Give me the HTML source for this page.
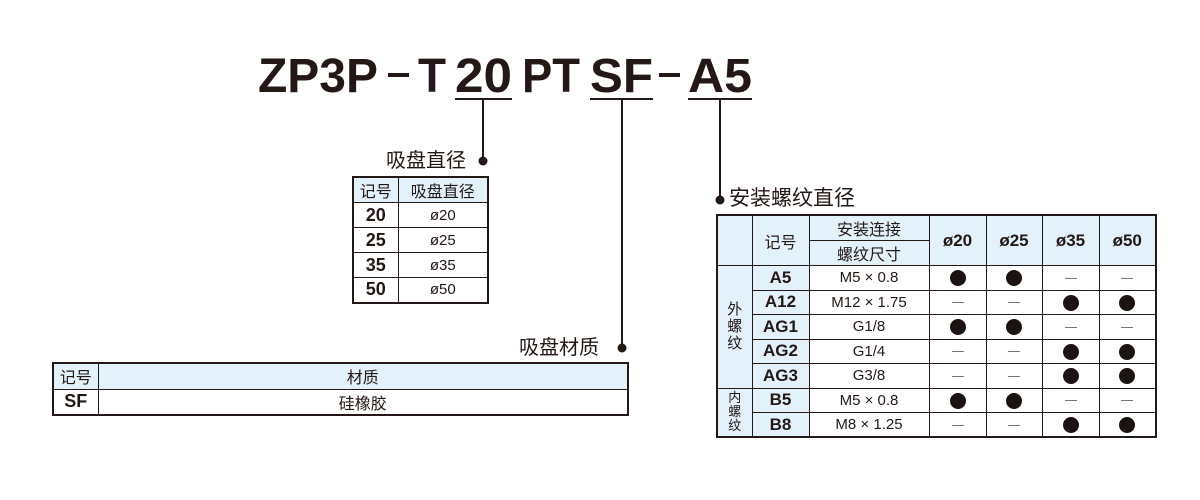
<!DOCTYPE html>
<html><head><meta charset="utf-8"><style>
body{margin:0;width:1200px;height:500px;background:#fff;position:relative;overflow:hidden;font-family:"Liberation Sans","Noto Sans CJK SC",sans-serif;color:#231815}
table{position:absolute;border-collapse:collapse;border:2px solid #231815;table-layout:fixed}
td{border:1px solid #231815;padding:0;text-align:center;vertical-align:middle;white-space:nowrap;overflow:hidden}
.h{background:#e3f1fb}
.b{font-weight:bold}
.lbl{position:absolute;font-size:20px;line-height:22px;white-space:nowrap}
.dot{display:inline-block;width:16px;height:16px;border-radius:50%;background:#1a1311;vertical-align:middle}
.dash{display:inline-block;width:12px;height:1px;background:#777;vertical-align:middle}
</style></head><body>
<svg width="1200" height="500" style="position:absolute;left:0;top:0">
<g font-family="Liberation Sans" font-weight="bold" font-size="48" fill="#231815">
<text x="258" y="92" textLength="120" lengthAdjust="spacingAndGlyphs">ZP3P</text>
<text x="418" y="92" textLength="28" lengthAdjust="spacingAndGlyphs">T</text>
<text x="455" y="92" textLength="57" lengthAdjust="spacingAndGlyphs">20</text>
<text x="522" y="92" textLength="58" lengthAdjust="spacingAndGlyphs">PT</text>
<text x="590" y="92" textLength="63" lengthAdjust="spacingAndGlyphs">SF</text>
<text x="688" y="92" textLength="64" lengthAdjust="spacingAndGlyphs">A5</text>
</g>
<rect x="388" y="73" width="21" height="4" fill="#231815"/>
<rect x="659" y="73" width="21" height="4" fill="#231815"/>
<g stroke="#231815" stroke-width="2">
<line x1="455" y1="99" x2="512" y2="99"/>
<line x1="590" y1="99" x2="653" y2="99"/>
<line x1="688" y1="99" x2="752" y2="99"/>
<line x1="483" y1="99" x2="483" y2="160"/>
<line x1="622" y1="99" x2="622" y2="347"/>
<line x1="720" y1="99" x2="720" y2="200"/>
</g>
<g fill="#231815"><circle cx="483" cy="161" r="4.5"/><circle cx="622" cy="348" r="4.5"/><circle cx="720" cy="200" r="4.5"/></g>
</svg>
<div class="lbl" style="left:386px;top:150px">吸盘直径</div>
<div class="lbl" style="left:729px;top:188px;font-size:21px">安装螺纹直径</div>
<div class="lbl" style="left:519px;top:337px">吸盘材质</div>

<table style="left:352px;top:176px;width:137px">
<col style="width:45px"><col>
<tr style="height:25px"><td class="h" style="font-size:16px">记号</td><td class="h" style="font-size:16px">吸盘直径</td></tr>
<tr style="height:25px"><td class="b" style="font-size:18px">20</td><td style="font-size:15px">ø20</td></tr>
<tr style="height:25px"><td class="b" style="font-size:18px">25</td><td style="font-size:15px">ø25</td></tr>
<tr style="height:25px"><td class="b" style="font-size:18px">35</td><td style="font-size:15px">ø35</td></tr>
<tr style="height:25px"><td class="b" style="font-size:18px">50</td><td style="font-size:15px">ø50</td></tr>
</table>

<table style="left:52px;top:362px;width:577px">
<col style="width:45px"><col>
<tr style="height:26px"><td class="h" style="font-size:16px">记号</td><td class="h" style="font-size:16px">材质</td></tr>
<tr style="height:26px"><td class="b" style="font-size:18px">SF</td><td style="font-size:16px">硅橡胶</td></tr>
</table>

<table style="left:716px;top:214px;width:441px;font-size:15px">
<col style="width:35px"><col style="width:57px"><col style="width:120px"><col style="width:57px"><col style="width:56px"><col style="width:57px"><col>
<tr style="height:24px"><td class="h" rowspan="2"></td><td class="h" rowspan="2" style="font-size:16px">记号</td><td class="h" style="font-size:16px">安装连接</td><td class="h b" rowspan="2" style="font-size:17px">ø20</td><td class="h b" rowspan="2" style="font-size:17px">ø25</td><td class="h b" rowspan="2" style="font-size:17px">ø35</td><td class="h b" rowspan="2" style="font-size:17px">ø50</td></tr>
<tr style="height:24px"><td class="h" style="font-size:16px">螺纹尺寸</td></tr>
<tr style="height:24.5px"><td class="h" rowspan="5" style="font-size:15px;line-height:17px">外<br>螺<br>纹</td><td class="h b" style="font-size:17px">A5</td><td>M5 × 0.8</td><td><span class="dot"></span></td><td><span class="dot"></span></td><td><span class="dash"></span></td><td><span class="dash"></span></td></tr>
<tr style="height:24.5px"><td class="h b" style="font-size:17px">A12</td><td>M12 × 1.75</td><td><span class="dash"></span></td><td><span class="dash"></span></td><td><span class="dot"></span></td><td><span class="dot"></span></td></tr>
<tr style="height:24.5px"><td class="h b" style="font-size:17px">AG1</td><td>G1/8</td><td><span class="dot"></span></td><td><span class="dot"></span></td><td><span class="dash"></span></td><td><span class="dash"></span></td></tr>
<tr style="height:24.5px"><td class="h b" style="font-size:17px">AG2</td><td>G1/4</td><td><span class="dash"></span></td><td><span class="dash"></span></td><td><span class="dot"></span></td><td><span class="dot"></span></td></tr>
<tr style="height:24.5px"><td class="h b" style="font-size:17px">AG3</td><td>G3/8</td><td><span class="dash"></span></td><td><span class="dash"></span></td><td><span class="dot"></span></td><td><span class="dot"></span></td></tr>
<tr style="height:24.5px"><td class="h" rowspan="2" style="font-size:13px;line-height:14px">内<br>螺<br>纹</td><td class="h b" style="font-size:17px">B5</td><td>M5 × 0.8</td><td><span class="dot"></span></td><td><span class="dot"></span></td><td><span class="dash"></span></td><td><span class="dash"></span></td></tr>
<tr style="height:24.5px"><td class="h b" style="font-size:17px">B8</td><td>M8 × 1.25</td><td><span class="dash"></span></td><td><span class="dash"></span></td><td><span class="dot"></span></td><td><span class="dot"></span></td></tr>
</table>
</body></html>
